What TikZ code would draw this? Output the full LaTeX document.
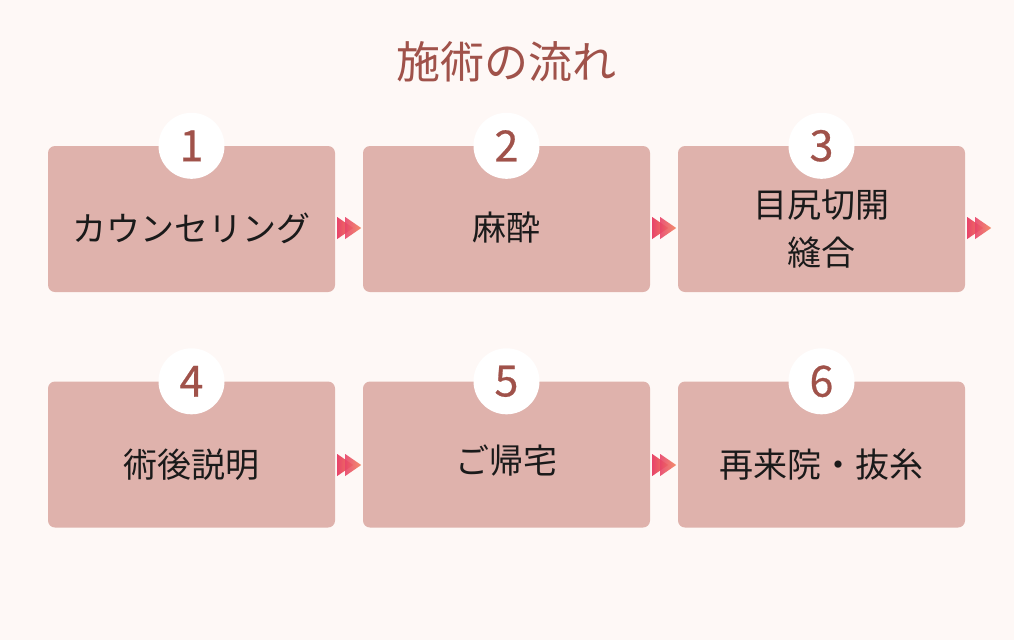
\documentclass[tikz,border=0pt]{standalone}
\usepackage{fontspec}
\newfontfamily\jp{Noto Sans CJK JP}
\newfontfamily\jpnum[FakeBold=0.6]{Noto Sans CJK JP}
\definecolor{bg}{HTML}{FEF8F6}
\definecolor{boxc}{HTML}{DFB2AC}
\definecolor{numc}{HTML}{A0524A}
\definecolor{arl}{HTML}{E8456A}
\definecolor{arr}{HTML}{F2835E}
\definecolor{txt}{HTML}{1A1A1A}
\begin{document}
\begin{tikzpicture}[x=1pt,y=-1pt,
  stepbox/.style={fill=boxc, rounded corners=7pt, minimum width=287pt, minimum height=146pt, inner sep=0pt, draw=none},
  numcirc/.style={circle, fill=white, minimum size=66pt, inner sep=0pt, text=numc, font=\jpnum\fontsize{43}{43}\selectfont},
  steplabel/.style={font=\jp\fontsize{34}{48}\selectfont, align=center, text=txt, inner sep=0pt},
  ffwd/.pic={
    \shade[left color=arl,right color=arr] (0,-11) -- (16,0) -- (0,11) -- cycle;
    \shade[left color=arl,right color=arr,opacity=.9] (8,-11) -- (24,0) -- (8,11) -- cycle;
  }]
\fill[bg] (0,0) rectangle (1014,640);
\useasboundingbox (0,0) rectangle (1014,640);

\node[font=\jp\fontsize{44}{44}\selectfont, text=numc] (title) at (506,62) {施術の流れ};

% boxes
\node[stepbox] (b1) at (191.5,219) {};
\node[stepbox] (b2) at (506.5,219) {};
\node[stepbox] (b3) at (821.5,219) {};
\node[stepbox] (b4) at (191.5,454.5) {};
\node[stepbox] (b5) at (506.5,454.5) {};
\node[stepbox] (b6) at (821.5,454.5) {};

% number circles
\node[numcirc] (c1) at (b1.north) {1};
\node[numcirc] (c2) at (b2.north) {2};
\node[numcirc] (c3) at (b3.north) {3};
\node[numcirc] (c4) at (b4.north) {4};
\node[numcirc] (c5) at (b5.north) {5};
\node[numcirc] (c6) at (b6.north) {6};

% labels
\node[steplabel] (t1) at (191.5,228) {カウンセリング};
\node[steplabel] (t2) at (506.5,228) {麻酔};
\node[steplabel] (t3) at (821.5,229) {目尻切開\\縫合};
\node[steplabel] (t4) at (191.5,465) {術後説明};
\node[steplabel] (t5) at (506.5,461) {ご帰宅};
\node[steplabel] (t6) at (821.5,465) {再来院・抜糸};

% arrows
\path (b1.east) ++(2,9) coordinate (a1) pic{ffwd};
\path (b2.east) ++(2,9) coordinate (a2) pic{ffwd};
\path (b3.east) ++(2,9) coordinate (a3) pic{ffwd};
\path (b4.east) ++(2,10.5) coordinate (a4) pic{ffwd};
\path (b5.east) ++(2,10.5) coordinate (a5) pic{ffwd};
\end{tikzpicture}
\end{document}
